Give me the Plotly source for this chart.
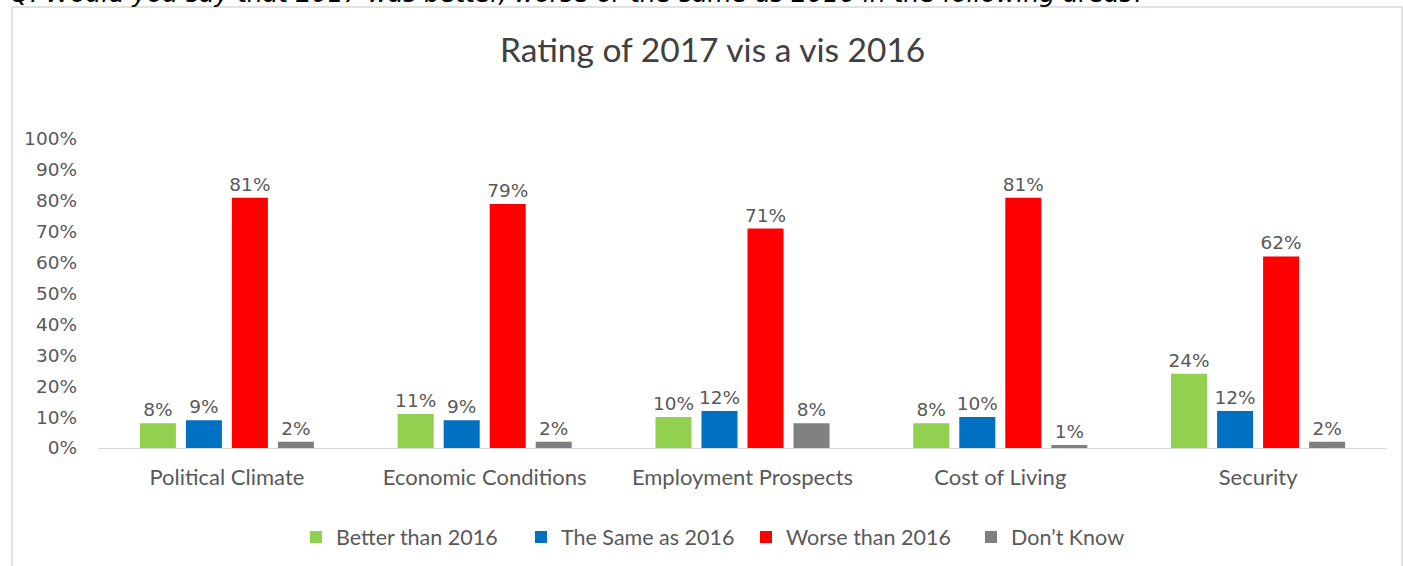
import plotly.graph_objects as go

categories = ["Political Climate", "Economic Conditions", "Employment Prospects", "Cost of Living", "Security"]
better = [0.08, 0.11, 0.10, 0.08, 0.24]
same = [0.09, 0.09, 0.12, 0.10, 0.12]
worse = [0.81, 0.79, 0.71, 0.81, 0.62]
dont_know = [0.02, 0.02, 0.08, 0.01, 0.02]

series = [
    ("Better than 2016", better, "#92D050"),
    ("The Same as 2016", same, "#0070C0"),
    ("Worse than 2016", worse, "#FF0000"),
    ("Don\u2019t Know", dont_know, "#808080"),
]

W, H = 1403, 566
L, R, T, B = 98, 16, 139, 118
pw, ph = W - L - R, H - T - B


def px_x(x):
    return (x - L) / pw


def px_y(y):
    return (H - B - y) / ph


text_col = "#595959"
num_font = dict(family="DejaVu Sans", size=18.5, color=text_col)
cal_font = "Lato"

fig = go.Figure()
for name, vals, col in series:
    fig.add_trace(go.Bar(
        x=categories, y=vals, name=name,
        marker=dict(color=col, line=dict(width=0)),
        text=[f"{v:.0%}" for v in vals],
        textposition="outside",
        constraintext="none",
        textfont=num_font,
        cliponaxis=False,
    ))

fig.update_layout(
    width=W, height=H,
    margin=dict(l=L, r=R, t=T, b=B),
    barmode="group",
    bargap=0.286,
    bargroupgap=0.217,
    plot_bgcolor="white",
    paper_bgcolor="white",
    font=dict(family=cal_font, color=text_col),
    showlegend=True,
    legend=dict(
        orientation="h", xref="container", yref="container",
        x=746 / W, xanchor="center",
        y=1 - 537 / H, yanchor="middle",
        font=dict(family=cal_font, size=21.5, color=text_col),
        entrywidth=180,
        itemclick=False,
    ),
)

fig.update_xaxes(
    showgrid=False, showline=True, linecolor="#D9D9D9", linewidth=1,
    ticks="", tickfont=dict(family=cal_font, size=22, color=text_col),
    ticklabelstandoff=10, automargin=False,
)
fig.update_yaxes(
    range=[0, 1], dtick=0.1, tickformat=".0%",
    showgrid=False, zeroline=False, showline=False,
    tickfont=num_font, ticklabelstandoff=20, automargin=False,
)

# chart title
fig.add_annotation(
    text="Rating of 2017 vis a vis 2016", xref="paper", yref="paper",
    x=px_x(712), y=px_y(49), xanchor="center", yanchor="middle",
    showarrow=False, font=dict(family=cal_font, size=33.5, color="#404040"),
)

# question line cut off at the top of the picture
fig.add_annotation(
    text="<i>Q. Would you say that 2017 was better, worse or the same as 2016 in the following areas?</i>",
    xref="paper", yref="paper", x=px_x(8), y=px_y(10),
    xanchor="left", yanchor="bottom", showarrow=False,
    font=dict(family="DejaVu Sans", size=25, color="#000000"),
)

# outer chart frame
fig.add_shape(
    type="rect", xref="paper", yref="paper",
    x0=px_x(12), x1=px_x(1402), y0=px_y(580), y1=px_y(7),
    line=dict(color="#D9D9D9", width=1.5), fillcolor="rgba(0,0,0,0)",
    layer="below",
)

fig.write_html(
    "out.html",
    config={"displayModeBar": False},
    post_script="document.body.style.margin = '0';",
)
